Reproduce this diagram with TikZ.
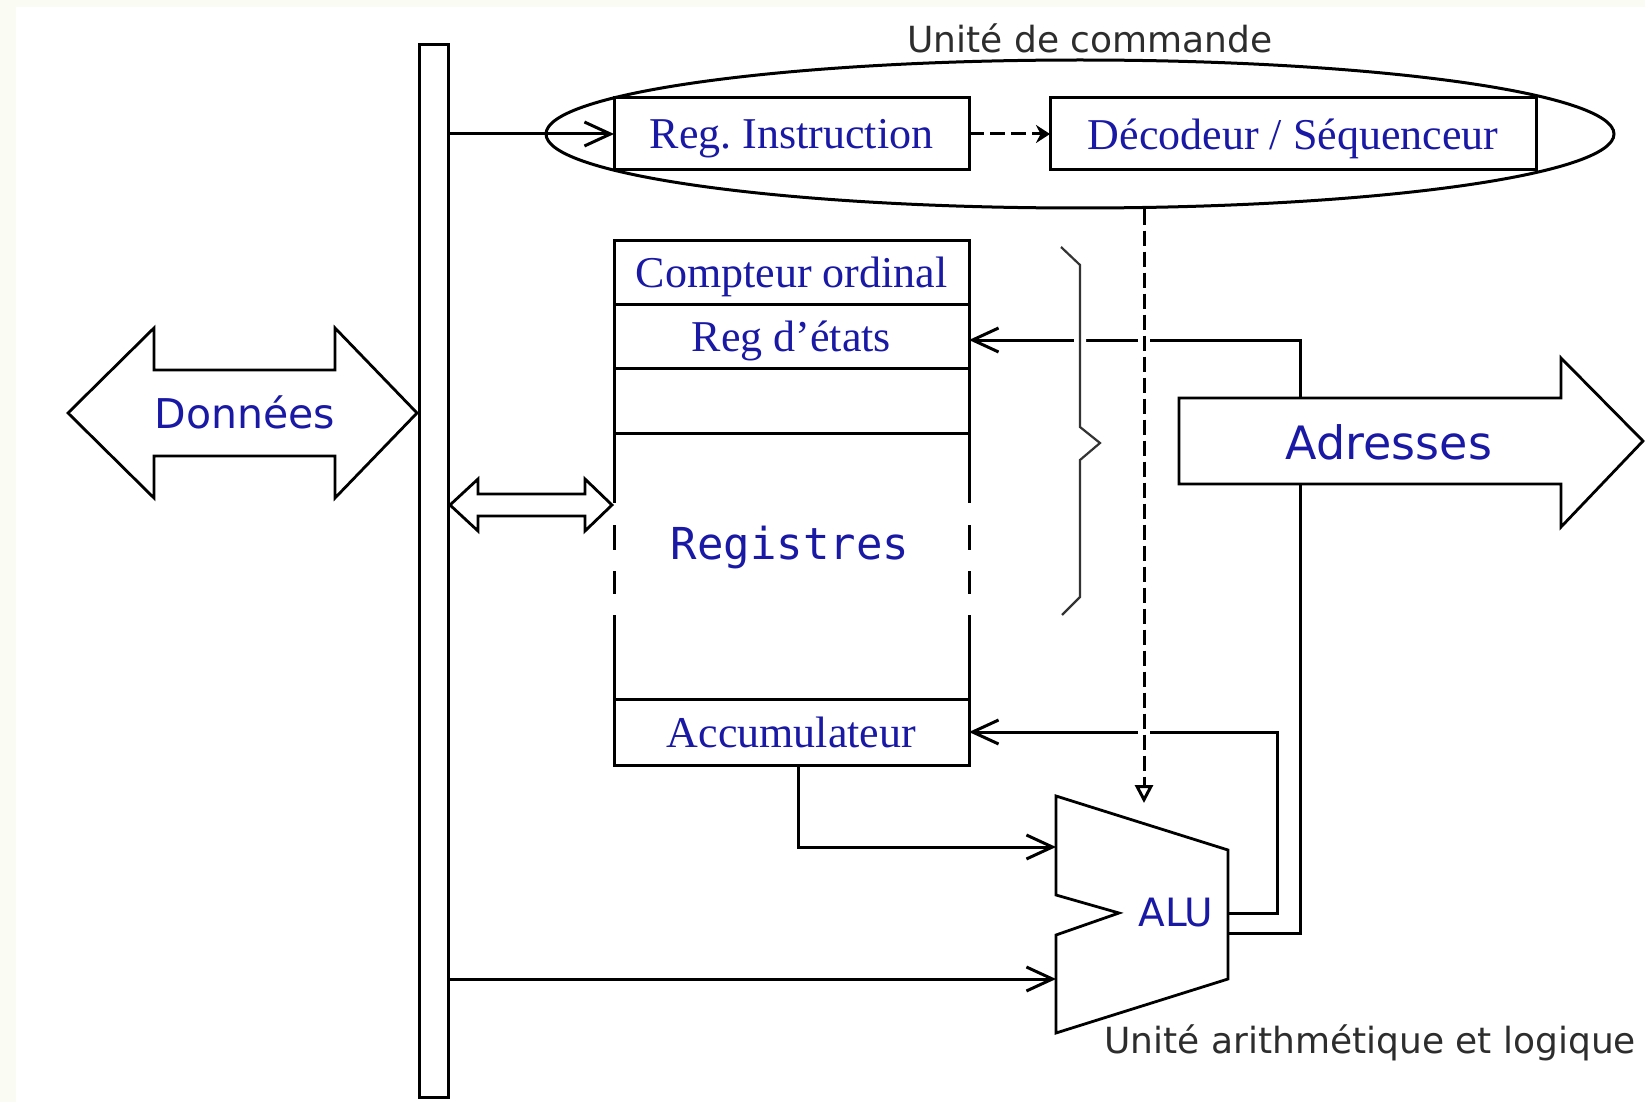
\documentclass[tikz,border=0pt]{standalone}
\usepackage{fontspec}
\setmainfont{Liberation Serif}
\newfontfamily\dejavu{DejaVu Sans}
\newfontfamily\dejavumono{DejaVu Sans Mono}
\usetikzlibrary{positioning,arrows.meta,shapes.geometric}
\definecolor{txtblue}{RGB}{25,25,165}
\definecolor{cream}{RGB}{250,251,242}
\definecolor{lblgray}{RGB}{45,45,45}
\frenchspacing

\begin{document}
\begin{tikzpicture}[x=0.5pt, y=-0.5pt, line join=miter,
  box/.style={draw, line width=1.5pt, inner sep=0pt, outer sep=0pt, text depth=0pt, text=txtblue, font=\fontsize{22}{26}\selectfont},
  reg/.style={box, minimum width=177.5pt},
  fat/.style={draw, fill=white, line width=1.4pt},
  fattxt/.style={text=txtblue, font=\dejavu\fontsize{20.5}{24}\selectfont},
  grylbl/.style={text=lblgray, font=\dejavu\fontsize{18}{22}\selectfont, inner sep=0pt},
  wire/.style={line width=1.5pt, -{Straight Barb[length=13pt, width=12pt]}},
  ctlwire/.style={line width=1.5pt, dash pattern=on 7.5pt off 3pt},
  hop/.style={preaction={draw=white, solid, -, line width=6pt, #1}}, hop/.default={}]
\useasboundingbox (0,0) rectangle (1645,1102);
\fill[cream] (0,0) rectangle (1645,1102);
\fill[white] (16,7) rectangle (1645,1102);
\node[draw, line width=1.5pt, minimum width=14.5pt, minimum height=526pt, inner sep=0pt, outer sep=0pt] (bus) at (433.5,571) {};
\node[reg, minimum height=36pt] (ri) at (791.5,134) {Reg. Instruction};
\node[box, minimum width=243pt, minimum height=36pt] (dec) at (1293,134) {Décodeur / Séquenceur};
\node[draw, ellipse, line width=1.5pt, minimum width=534pt, minimum height=74pt, inner sep=0pt] (ctrl) at (1080,134) {};
\node[grylbl] (ctrllbl) at (1090,38) {Unité de commande};
\node[reg, minimum height=32pt] (cpt) at (791.5,272) {Compteur ordinal};
\node[reg, minimum height=32pt, below=0pt of cpt] (etats) {Reg d'états};
\node[reg, minimum height=32.5pt, below=0pt of etats] (vide) {};
\node[minimum width=177.5pt, minimum height=133pt, inner sep=0pt, outer sep=0pt, below=0pt of vide] (regs) {};
\node[reg, minimum height=33pt, below=0pt of regs] (accu) {Accumulateur};
\node[text=txtblue, font=\dejavumono\fontsize{22}{26}\selectfont] (regslbl) at (790,548) {Registres};
\foreach \a/\b in {north west/south west,north east/south east}
  \draw[line width=1.5pt, dash pattern=on 35pt off 11pt on 12.5pt off 10.5pt on 11.5pt off 10.5pt on 60pt] (regs.\a) -- (regs.\b);
\draw[line width=1.4pt] (1056,796) -- (1228,850) -- (1228,979) -- (1056,1033) -- (1056,935) -- (1119,913) -- (1056,895) -- cycle;
\node[text=txtblue, font=\dejavu\fontsize{19.5}{23}\selectfont] (alu) at (1176,913) {ALU};
\coordinate (aluin1) at (1056,847); \coordinate (aluin2) at (1056,979);
\coordinate (aluout1) at (1228,913); \coordinate (aluout2) at (1228,933); \coordinate (alutop) at (1144,803);
\node[grylbl, anchor=west] (alulbl) at (1104,1043) {Unité arithmétique et logique};
\draw[wire] (bus.east |- ri.west) -- (ri.west);
\draw[ctlwire, -{Stealth[length=7pt, width=9pt]}] (ri.east) -- (dec.west);
\draw[wire] (aluout2) -- ++(72,0) |- ([yshift=-2pt]etats.east);
\draw[wire] (aluout1) -- ++(49,0) |- (accu.east);
\draw[wire] ([xshift=3.5pt]accu.south) |- (aluin1);
\draw[wire] (bus.east |- aluin2) -- (aluin2);
\draw[ctlwire, hop={shorten <=3pt}, -{Triangle[open, length=9pt, width=9pt]}] (alutop |- ctrl.south) -- (alutop);
\draw[line width=1.1pt, draw=black!80, hop] (1061,247) -- (1080,265) -- (1080,427) -- (1100,443) -- (1080,460) -- (1080,597) -- (1062,615);
\draw[fat] (68,413) -- (154,328) -- (154,370) -- (335,370) -- (335,328) -- (417,413) -- (335,498) -- (335,456) -- (154,456) -- (154,498) -- cycle;
\node[fattxt] (donnees) at (245,412) {Données};
\draw[fat] (450,505) -- (478,479) -- (478,494) -- (585,494) -- (585,479) -- (612,505) -- (585,531) -- (585,516) -- (478,516) -- (478,531) -- cycle;
\draw[fat] (1179,398) -- (1561,398) -- (1561,358) -- (1643,441) -- (1561,527) -- (1561,484) -- (1179,484) -- cycle;
\node[fattxt, font=\dejavu\fontsize{23}{27}\selectfont] (adr) at (1389,442) {Adresses};
\end{tikzpicture}
\end{document}
